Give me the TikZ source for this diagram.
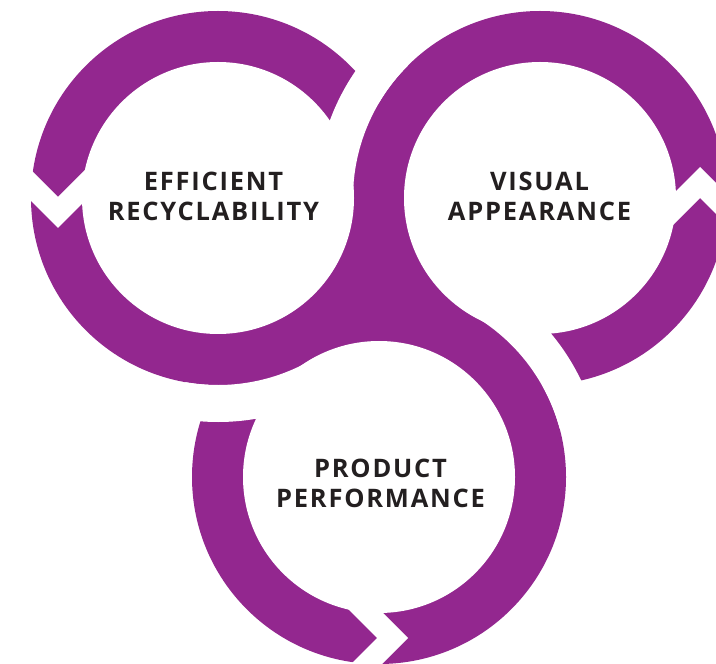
\documentclass[tikz,border=0pt]{standalone}
\usepackage{fontspec}
\setmainfont{Open Sans}
\definecolor{ringpurple}{HTML}{93278F}
\definecolor{labelblack}{HTML}{231F20}

\begin{document}
\begin{tikzpicture}[
        x=0.02cm, y=0.02cm,
        ringfill/.style={fill=ringpurple},
        hole/.style={fill=white},
        ringlabel/.style={text=labelblack, align=center, font=\fontsize{14.5}{17.1}\selectfont\bfseries\addfontfeature{LetterSpace=7}}
    ]
    \useasboundingbox (0,0) rectangle (716,663);
    \clip (0,0) rectangle (716,663);
    \fill[white] (0,0) rectangle (716,663);

    % Ring centres
    \coordinate (ringA) at (218,465);
    \coordinate (ringB) at (540,465);
    \coordinate (ringC) at (379,186);

    % Outer discs
    \fill[ringfill] (ringA) circle[radius=187];
    \fill[ringfill] (ringB) circle[radius=187];
    \fill[ringfill] (ringC) circle[radius=187];

    % Inner discs
    \fill[hole] (ringA) circle[radius=136];
    \fill[hole] (ringB) circle[radius=136];
    \fill[hole] (ringC) circle[radius=136];

    % Gaps where one ring runs under the next
    \fill[hole] (ringB) ++(135:187) arc[start angle=135, end angle=180, radius=187]
        -- ++(180:37) arc[start angle=180, end angle=135, radius=224] -- cycle;
    \fill[hole] (ringC) ++(15:187) arc[start angle=15, end angle=60, radius=187]
        -- ++(60:37) arc[start angle=60, end angle=15, radius=224] -- cycle;
    \fill[hole] (ringA) ++(260:187) arc[start angle=260, end angle=300, radius=187]
        -- ++(300:37) arc[start angle=300, end angle=260, radius=224] -- cycle;

    % Chevron breaks
    \fill[hole] (15,509) -- (58,466) -- (101,509) -- (101,478) -- (58,435) -- (15,478) -- cycle;
    \fill[hole] (657,453) -- (700,496) -- (743,453) -- (743,422) -- (700,465) -- (657,422) -- cycle;
    \fill[hole] (334,68) -- (377,25) -- (334,-18) -- (365,-18) -- (408,25) -- (365,68) -- cycle;

    % Labels
    \node[ringlabel] (recycle) at (213.5,467) {EFFICIENT\\RECYCLABILITY};
    \node[ringlabel] (visual) at (539.5,467) {VISUAL\\APPEARANCE};
    \node[ringlabel] (product) at (380.5,180) {PRODUCT\\PERFORMANCE};

\end{tikzpicture}
\end{document}
